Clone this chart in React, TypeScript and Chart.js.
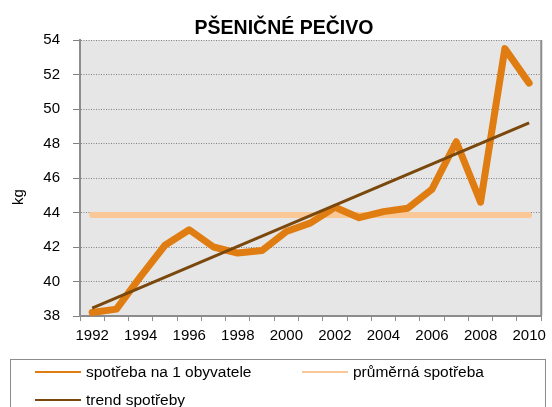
import React, { useEffect, useRef } from "react";
import { Chart, registerables } from "chart.js";

Chart.register(...registerables);

const years = ["1992","1993","1994","1995","1996","1997","1998","1999","2000","2001","2002","2003","2004","2005","2006","2007","2008","2009","2010"];
const perCapita = [38.2, 38.4, 40.3, 42.1, 43.0, 42.0, 41.65, 41.8, 42.9, 43.4, 44.3, 43.7, 44.05, 44.25, 45.35, 48.1, 44.6, 53.5, 51.5];
const average = [43.85, 43.85, 43.85, 43.85, 43.85, 43.85, 43.85, 43.85, 43.85, 43.85, 43.85, 43.85, 43.85, 43.85, 43.85, 43.85, 43.85, 43.85, 43.85];
const trend = [38.45, null, null, null, null, null, null, null, null, null, null, null, null, null, null, null, null, null, 49.2];
const seriesNames = ["spotřeba na 1 obyvatele", "průměrná spotřeba", "trend spotřeby"];
const title = "PŠENIČNÉ PEČIVO";
const yTitle = "kg";

const C_MAIN = "rgb(224,125,18)";
const C_AVG = "rgb(250,200,150)";
const C_TREND = "rgb(122,72,12)";
const FONT = "'Liberation Sans', Arial, sans-serif";

export default function App() {
  const ref = useRef<HTMLCanvasElement>(null);
  useEffect(() => {
    const bgPlugin = {
      id: "bg",
      beforeDraw(chart: any) {
        const { ctx, chartArea: a } = chart;
        ctx.save();
        ctx.fillStyle = "#e6e6e6";
        ctx.fillRect(a.left, a.top, a.right - a.left, a.bottom - a.top);
        ctx.restore();
      },
      afterDraw(chart: any) {
        const { ctx, chartArea: a } = chart;
        ctx.save();
        ctx.strokeStyle = "#8c8c8c";
        ctx.lineWidth = 2;
        ctx.beginPath();
        ctx.moveTo(a.right, a.top);
        ctx.lineTo(a.right, a.bottom);
        ctx.stroke();
        // title
        ctx.fillStyle = "#000";
        ctx.font = "bold 19.5px " + FONT;
        ctx.textAlign = "center";
        ctx.textBaseline = "alphabetic";
        ctx.fillText(title, 284, 34);
        // y axis title
        ctx.save();
        ctx.translate(18.5, 197);
        ctx.rotate(-Math.PI / 2);
        ctx.font = "15px " + FONT;
        ctx.textBaseline = "middle";
        ctx.fillText(yTitle, 0, 0);
        ctx.restore();
        // legend
        ctx.lineWidth = 1;
        ctx.strokeStyle = "#8c8c8c";
        ctx.strokeRect(10.5, 359.5, 535, 60);
        const items = [
          { x: 35, y: 372, c: C_MAIN, t: seriesNames[0] },
          { x: 302, y: 372, c: C_AVG, t: seriesNames[1] },
          { x: 35, y: 400, c: C_TREND, t: seriesNames[2] },
        ];
        ctx.font = "15.5px " + FONT;
        ctx.textBaseline = "middle";
        ctx.textAlign = "left";
        for (const it of items) {
          ctx.strokeStyle = it.c;
          ctx.lineWidth = 2;
          ctx.beginPath();
          ctx.moveTo(it.x, it.y);
          ctx.lineTo(it.x + 46, it.y);
          ctx.stroke();
          ctx.fillStyle = "#000";
          ctx.fillText(it.t, it.x + 51, it.y + 1);
        }
        ctx.restore();
      },
    };
    const chart = new Chart(ref.current!, {
      type: "line",
      data: {
        labels: years,
        datasets: [
          { label: seriesNames[1], data: average, borderColor: C_AVG, borderWidth: 6, pointRadius: 0, borderCapStyle: "round", order: 3 },
          { label: seriesNames[0], data: perCapita, borderColor: C_MAIN, borderWidth: 7, pointRadius: 0, borderCapStyle: "round", borderJoinStyle: "round", order: 2 },
          { label: seriesNames[2], data: trend, borderColor: C_TREND, borderWidth: 3, pointRadius: 0, spanGaps: true, order: 1 },
        ],
      },
      options: {
        animation: false,
        responsive: false,
        layout: { padding: { top: 40, left: 8, right: 7, bottom: 51 } },
        plugins: {
          legend: { display: false },
          tooltip: { enabled: false },
          title: { display: false },
        },
        scales: {
          x: {
            type: "category",
            offset: true,
            grid: { offset: true, drawOnChartArea: false, drawTicks: true, tickLength: 5, color: "#8c8c8c", lineWidth: 1 },
            border: { color: "#8c8c8c", width: 2 },
            ticks: {
              autoSkip: false,
              maxRotation: 0,
              color: "#000",
              font: { family: FONT, size: 15 },
              padding: 6,
              callback: (v: any, i: number) => (i % 2 === 0 ? years[i] : ""),
            },
            afterFit: (s: any) => { s.height = 40; },
          },
          y: {
            min: 38,
            max: 54,
            ticks: { stepSize: 2, color: "#000", font: { family: FONT, size: 15 }, padding: 13 },
            grid: { color: "#808080", lineWidth: 1, tickLength: 7, tickBorderDash: [], drawTicks: true },
            border: { color: "#8c8c8c", width: 2, dash: [1, 1.5] },
            title: { display: false },
            afterFit: (s: any) => { s.width = 72; },
          },
        },
      } as any,
      plugins: [bgPlugin],
    });
    return () => chart.destroy();
  }, []);
  return (
    <div style={{ position: "fixed", left: 0, top: 0, width: 552, height: 407, background: "#fff" }}>
      <canvas ref={ref} width={552} height={407} style={{ width: 552, height: 407 }} />
    </div>
  );
}
